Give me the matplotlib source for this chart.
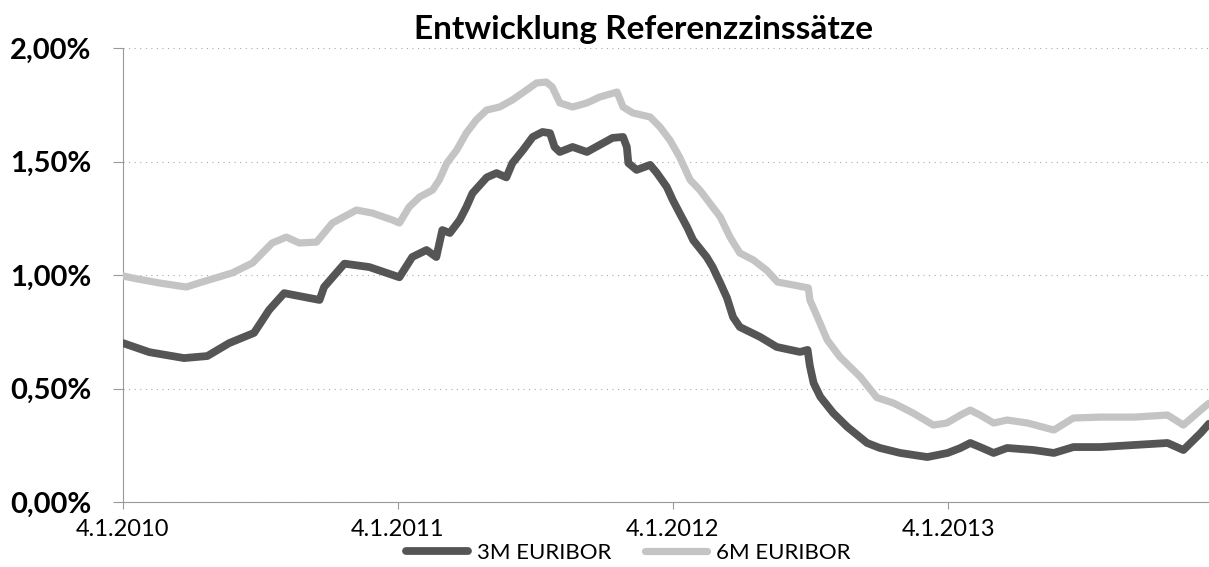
import matplotlib
matplotlib.use('Agg')
import matplotlib.pyplot as plt
import pandas as pd

# 3M EURIBOR (in %)
dates_3m = ['2010-01-04', '2010-02-08', '2010-03-26', '2010-04-26', '2010-05-25', '2010-06-27',
            '2010-07-17', '2010-08-06', '2010-09-22', '2010-09-28', '2010-10-25', '2010-11-27',
            '2011-01-06', '2011-01-23', '2011-02-11', '2011-02-24', '2011-03-04', '2011-03-14',
            '2011-03-27', '2011-04-05', '2011-04-13', '2011-05-02', '2011-05-15', '2011-05-28',
            '2011-06-05', '2011-06-19', '2011-07-02', '2011-07-15', '2011-07-25', '2011-07-31',
            '2011-08-07', '2011-08-24', '2011-09-12', '2011-09-29', '2011-10-16', '2011-10-30',
            '2011-11-04', '2011-11-06', '2011-11-17', '2011-12-05', '2011-12-14', '2011-12-27',
            '2012-01-04', '2012-01-13', '2012-01-23', '2012-01-31', '2012-02-18', '2012-02-26',
            '2012-03-07', '2012-03-16', '2012-03-24', '2012-04-02', '2012-04-29', '2012-05-21',
            '2012-06-21', '2012-07-01', '2012-07-04', '2012-07-09', '2012-07-18', '2012-08-04',
            '2012-08-23', '2012-09-18', '2012-10-05', '2012-11-01', '2012-12-07', '2013-01-03',
            '2013-01-20', '2013-02-02', '2013-02-15', '2013-03-05', '2013-03-23', '2013-04-27',
            '2013-05-24', '2013-06-19', '2013-07-25', '2013-09-07', '2013-10-22', '2013-11-12',
            '2013-12-05', '2013-12-16']
euribor_3m = [0.70, 0.66, 0.634, 0.643, 0.70, 0.745,
              0.846, 0.92, 0.89, 0.947, 1.05, 1.035,
              0.99, 1.079, 1.11, 1.079, 1.198, 1.185,
              1.242, 1.30, 1.36, 1.43, 1.449, 1.43,
              1.493, 1.55, 1.608, 1.63, 1.625, 1.564,
              1.542, 1.564, 1.542, 1.573, 1.604, 1.608,
              1.564, 1.493, 1.463, 1.485, 1.449, 1.388,
              1.33, 1.273, 1.211, 1.154, 1.079, 1.035,
              0.965, 0.899, 0.815, 0.771, 0.727, 0.683,
              0.661, 0.67, 0.60, 0.524, 0.463, 0.392,
              0.330, 0.26, 0.238, 0.216, 0.198, 0.216,
              0.238, 0.26, 0.242, 0.216, 0.238, 0.229,
              0.216, 0.242, 0.242, 0.251, 0.26, 0.229,
              0.304, 0.345]

# 6M EURIBOR (in %)
dates_6m = ['2010-01-04', '2010-01-16', '2010-02-21', '2010-03-29', '2010-04-15', '2010-05-29',
            '2010-06-25', '2010-07-21', '2010-08-09', '2010-08-26', '2010-09-18', '2010-10-09',
            '2010-11-10', '2010-12-01', '2010-12-28', '2011-01-06', '2011-01-19', '2011-02-02',
            '2011-02-19', '2011-02-28', '2011-03-10', '2011-03-23', '2011-04-05', '2011-04-18',
            '2011-05-02', '2011-05-19', '2011-06-05', '2011-06-24', '2011-07-07', '2011-07-20',
            '2011-07-28', '2011-08-07', '2011-08-24', '2011-09-12', '2011-09-29', '2011-10-22',
            '2011-10-30', '2011-11-12', '2011-12-05', '2011-12-18', '2011-12-31', '2012-01-13',
            '2012-01-27', '2012-02-09', '2012-02-22', '2012-03-07', '2012-03-20', '2012-04-02',
            '2012-04-20', '2012-05-08', '2012-05-22', '2012-06-12', '2012-07-02', '2012-07-04',
            '2012-07-14', '2012-07-27', '2012-08-13', '2012-09-09', '2012-10-01', '2012-10-23',
            '2012-11-18', '2012-12-15', '2013-01-02', '2013-01-20', '2013-02-02', '2013-02-15',
            '2013-03-05', '2013-03-23', '2013-04-19', '2013-05-24', '2013-06-19', '2013-07-25',
            '2013-09-07', '2013-10-22', '2013-11-12', '2013-12-05', '2013-12-16']
euribor_6m = [0.996, 0.987, 0.965, 0.947, 0.965, 1.009,
              1.053, 1.141, 1.167, 1.141, 1.145, 1.229,
              1.286, 1.273, 1.242, 1.229, 1.30, 1.344,
              1.374, 1.419, 1.493, 1.55, 1.626, 1.683,
              1.727, 1.74, 1.771, 1.815, 1.846, 1.85,
              1.828, 1.758, 1.74, 1.758, 1.784, 1.806,
              1.74, 1.714, 1.696, 1.652, 1.595, 1.52,
              1.419, 1.374, 1.317, 1.256, 1.167, 1.097,
              1.066, 1.02, 0.969, 0.956, 0.943, 0.89,
              0.815, 0.714, 0.639, 0.551, 0.46, 0.436,
              0.392, 0.339, 0.348, 0.383, 0.405, 0.383,
              0.348, 0.361, 0.348, 0.317, 0.37, 0.374,
              0.374, 0.383, 0.339, 0.405, 0.435]

tick_dates = ['2010-01-04', '2011-01-04', '2012-01-04', '2013-01-04']
y_ticks = [0.0, 0.5, 1.0, 1.5, 2.0]

plt.rcParams['font.family'] = ['Lato', 'DejaVu Sans']

fig = plt.figure(figsize=(12.09, 5.67), dpi=100)
ax = fig.add_axes([123 / 1209, 65 / 567, 1 - 123 / 1209, 454 / 567])

ax.plot(pd.to_datetime(dates_6m), euribor_6m, color='#c4c4c4', lw=5.2,
        solid_capstyle='round', solid_joinstyle='round', label='6M EURIBOR', zorder=3)
ax.plot(pd.to_datetime(dates_3m), euribor_3m, color='#555555', lw=5.6,
        solid_capstyle='round', solid_joinstyle='round', label='3M EURIBOR', zorder=4)

ax.set_xlim(pd.Timestamp('2010-01-04'), pd.Timestamp('2013-12-16'))
ax.set_ylim(0, 2.0)

ticks = pd.to_datetime(tick_dates)
ax.set_xticks(ticks)
ax.set_xticklabels([f'{d.day}.{d.month}.{d.year}' for d in ticks], fontsize=17)
ax.set_yticks(y_ticks)
ax.set_yticklabels([f'{v:.2f}%'.replace('.', ',') for v in y_ticks],
                   fontsize=21, fontweight='bold')

ax.grid(axis='y', color='#aaaaaa', linestyle=(0, (1, 4)), linewidth=0.8)
for s in ['top', 'right']:
    ax.spines[s].set_visible(False)
ax.spines['left'].set_color('#999999')
ax.spines['left'].set_linestyle((0, (1, 1)))
ax.spines['bottom'].set_color('#999999')
ax.tick_params(axis='y', length=7, color='#999999', pad=16)
ax.tick_params(axis='x', length=5, color='#999999', pad=7)

fig.text(643 / 1209, 1 - 30 / 567, 'Entwicklung Referenzzinssätze', ha='center', va='center',
         fontsize=24, fontweight='bold')

h, l = ax.get_legend_handles_labels()
fig.legend([h[1], h[0]], [l[1], l[0]], loc='center', bbox_to_anchor=(628 / 1209, 1 - 553 / 567),
           ncol=2, frameon=False, fontsize=16, handlelength=2.8, columnspacing=1.5,
           handletextpad=0.4)

fig.savefig('out.png', dpi=100)
